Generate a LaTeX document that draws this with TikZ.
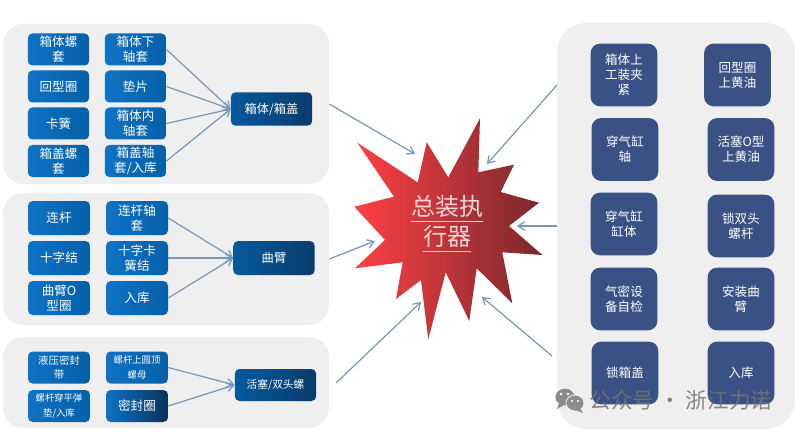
\documentclass[tikz,border=0pt]{standalone}
\usepackage{fontspec}
\setmainfont{Noto Sans CJK SC}
\usetikzlibrary{arrows.meta, positioning, shapes, calc}

\definecolor{panelgrey}{HTML}{EFEFEF}
\definecolor{partblue}{HTML}{0F72C4}
\definecolor{partblueb}{HTML}{0560A8}
\definecolor{sumblue}{HTML}{045A9C}
\definecolor{sumblueb}{HTML}{0B3B6C}
\definecolor{stepnavy}{HTML}{3A5185}
\definecolor{linkblue}{HTML}{7896B8}
\definecolor{starred}{HTML}{FF4044}
\definecolor{starmid}{HTML}{D23C42}
\definecolor{stardark}{HTML}{78282C}

\tikzset{
  panel/.style={fill=panelgrey, inner sep=0pt, rounded corners=15pt},
  partbox/.style={rounded corners=3.5pt, inner sep=0pt, left color=partblue, right color=partblueb, text=white, align=center,
    minimum width=46pt, minimum height=24pt, font=\fontsize{9.4}{11.2}\selectfont},
  smallpart/.style={partbox, font=\fontsize{7}{11}\selectfont},
  sumbox/.style={rounded corners=3.5pt, inner sep=0pt, left color=sumblue, right color=sumblueb, text=white, align=center,
    minimum width=61pt, minimum height=25pt, font=\fontsize{9.2}{11}\selectfont},
  stepbox/.style={rounded corners=7pt, inner sep=0pt, fill=stepnavy, text=white, align=center,
    minimum width=50pt, minimum height=47pt, font=\fontsize{9.4}{11.2}\selectfont},
  link/.style={-{Straight Barb[length=5pt,width=6.5pt]}, linkblue, line width=0.9pt}
}

\begin{document}
\begin{tikzpicture}[x=0.75pt, y=-0.75pt]
  \useasboundingbox (0,0) rectangle (795,442);

  % Grey panels
  \node[panel, minimum width=244.5pt, minimum height=120pt] (panelA) at (166,104) {};
  \node[panel, minimum width=244.5pt, minimum height=99pt] (panelB) at (166,259) {};
  \node[panel, minimum width=244.5pt, minimum height=68pt] (panelC) at (166,382.5) {};
  \node[panel, minimum width=178.5pt, minimum height=304.5pt, rounded corners=22pt] (panelR) at (676,226) {};

  % Case body and cover
  \node[partbox] (a1) at (58.5,49.5) {箱体螺\\套};
  \node[partbox] (a2) at (58.5,86.5) {回型圈};
  \node[partbox] (a3) at (58.5,123.5) {卡簧};
  \node[partbox] (a4) at (58.5,161) {箱盖螺\\套};
  \node[partbox] (b1) at (135.5,49.5) {箱体下\\轴套};
  \node[partbox] (b2) at (135.5,86.5) {垫片};
  \node[partbox] (b3) at (135.5,123.5) {箱体内\\轴套};
  \node[partbox] (b4) at (135.5,161) {箱盖轴\\套/入库};
  \node[sumbox] (caseSum) at (271.5,109) {箱体/箱盖};
  \foreach \n in {b1,b2,b3,b4}
    \draw[link] (\n.east) -- (caseSum.west);

  % Crank
  \node[partbox, minimum width=46.5pt, minimum height=25.5pt] (c1) at (59,218) {连杆};
  \node[partbox, minimum width=46.5pt, minimum height=25.5pt] (c2) at (59,258) {十字结};
  \node[partbox, minimum width=46.5pt, minimum height=25.5pt] (c3) at (59,298) {曲臂O\\型圈};
  \node[partbox, minimum width=46.5pt, minimum height=25.5pt] (d1) at (137,218) {连杆轴\\套};
  \node[partbox, minimum width=46.5pt, minimum height=25.5pt] (d2) at (137,258) {十字卡\\簧结};
  \node[partbox, minimum width=46.5pt, minimum height=25.5pt] (d3) at (137,298) {入库};
  \node[sumbox, minimum height=25.5pt] (crankSum) at (274,258) {曲臂};
  \foreach \n in {d1,d2,d3}
    \draw[link] (\n.east) -- (crankSum.west);

  % Piston and stud
  \node[smallpart, minimum width=46.5pt, font=\fontsize{7.8}{10.5}\selectfont] (e1) at (59,367.5) {液压密封\\带};
  \node[smallpart, minimum width=46.5pt] (e2) at (59,406) {螺杆穿平弹\\垫/入库};
  \node[smallpart, minimum width=46.5pt] (f1) at (137,367.5) {螺杆上圆顶\\螺母};
  \node[partbox, minimum width=46.5pt, right color=sumblueb!85!black, left color=partblue] (f2) at (137,406) {密封圈};
  \node[sumbox, minimum width=61pt, minimum height=24pt, font=\fontsize{8}{10}\selectfont] (pistonSum) at (275.5,385) {活塞/双头螺};
  \foreach \n in {f1,f2}
    \draw[link] (\n.east) -- (pistonSum.west);

  % Assembly steps
  \node[stepbox] (s1) at (624,75) {箱体上\\工装夹\\紧};
  \node[stepbox] (s2) at (625,149.5) {穿气缸\\轴};
  \node[stepbox] (s3) at (624,224) {穿气缸\\缸体};
  \node[stepbox] (s4) at (624,299) {气密设\\备自检};
  \node[stepbox] (s5) at (625,373) {锁箱盖};
  \node[stepbox] (s6) at (737.5,75) {回型圈\\上黄油};
  \node[stepbox] (s7) at (741,149.5) {活塞O型\\上黄油};
  \node[stepbox] (s8) at (741,226) {锁双头\\螺杆};
  \node[stepbox] (s9) at (741,299) {安装曲\\臂};
  \node[stepbox] (s10) at (741,373) {入库};

  % Star
  \shade[left color=starred, middle color=starmid, right color=stardark]
    (480,118.3) -- (478.3,172.3) -- (514,164.7) -- (500.7,192) -- (539,202.7) -- (509,226)
    -- (542.3,255) -- (502.3,252.3) -- (512.3,303.3) -- (476.7,268.3) -- (469.3,321)
    -- (445.7,272.3) -- (428.3,339.3) -- (421,280) -- (396,299) -- (402.7,262.3) -- (355,268.3)
    -- (385,240) -- (354.3,206.7) -- (394,196.7) -- (357.3,142.7) -- (417.7,182.3)
    -- (426.7,142.3) -- (448.3,177.3) -- cycle;
  \node[text=white, text opacity=0.8, align=center, inner sep=0pt, font=\fontsize{18}{22.5}\selectfont] (star) at (447,224)
    {\underline{总装执\rule[-3pt]{0pt}{0pt}}\\\underline{行器\rule[-3pt]{0pt}{0pt}}};

  % Links to the star
  \coordinate (inA) at (415,154);
  \coordinate (inB) at (375,241);
  \coordinate (fromC) at (336,383);
  \coordinate (inC) at (421,302);
  \coordinate (fromR1) at (557,85);
  \coordinate (inR1) at (487,164);
  \coordinate (inR2) at (517,226);
  \coordinate (fromR3) at (552,356);
  \coordinate (inR3) at (482,297);
  \draw[link] (panelA.east) -- (inA);
  \draw[link] (panelB.east) -- (inB);
  \draw[link] (fromC) -- (inC);
  \draw[link] (fromR1) -- (inR1);
  \draw[link] (panelR.west) -- (inR2);
  \draw[link] (fromR3) -- (inR3);

  % Watermark
  \fill[gray!90, draw=white, line width=0.5pt] (565,397) ellipse (10 and 9);
  \fill[gray!90] (559,403) -- (557,409) -- (564,405) -- cycle;
  \fill[gray!90, draw=white, line width=0.5pt] (575,403) ellipse (9 and 8);
  \fill[gray!90] (580,408) -- (583,413) -- (575,410) -- cycle;
  \fill[white] (561,394) circle (1.3) (568,394) circle (1.3) (572,401) circle (1.1) (578,401) circle (1.1);
  \node[text=black!55, opacity=0.85, inner sep=0pt, font=\fontsize{16.2}{18}\selectfont] (mark) at (681,400) {公众号 · 浙江力诺};
\end{tikzpicture}
\end{document}
